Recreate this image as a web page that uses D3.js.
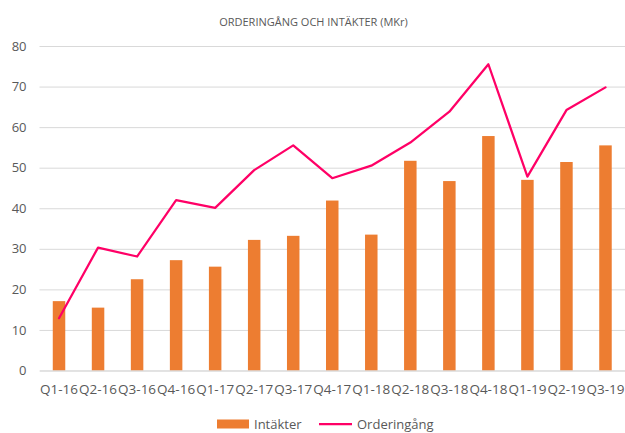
<!DOCTYPE html>
<html>
<head>
<meta charset="utf-8">
<script src="https://cdn.jsdelivr.net/npm/d3@7"></script>
<style>
  body { margin: 0; background: #fff; }
  text { font-family: "Open Sans", "Liberation Sans", sans-serif; fill: #595959; }
</style>
</head>
<body>
<svg width="625" height="433"></svg>
<script>
var quarters = ["Q1-16", "Q2-16", "Q3-16", "Q4-16", "Q1-17", "Q2-17", "Q3-17", "Q4-17",
                "Q1-18", "Q2-18", "Q3-18", "Q4-18", "Q1-19", "Q2-19", "Q3-19"];
var intakter = [17.1, 15.5, 22.5, 27.2, 25.6, 32.2, 33.2, 41.9, 33.5, 51.7, 46.7, 57.8, 47.0, 51.4, 55.5];
var orderingang = [12.9, 30.3, 28.1, 42.0, 40.1, 49.4, 55.5, 47.4, 50.5, 56.2, 63.8, 75.5, 47.8, 64.2, 69.8];
var yTicks = [0, 10, 20, 30, 40, 50, 60, 70, 80];

var svg = d3.select("svg"),
    margin = {top: 46, right: 0, bottom: 62.5, left: 39.5},
    width = +svg.attr("width") - margin.left - margin.right,
    height = +svg.attr("height") - margin.top - margin.bottom,
    g = svg.append("g").attr("transform", "translate(" + margin.left + "," + margin.top + ")");

var x = d3.scaleBand()
    .domain(quarters)
    .range([0, width])
    .paddingInner(0.68)
    .paddingOuter(0.34);

var y = d3.scaleLinear()
    .domain([0, 80])
    .range([height, 0]);

// title
svg.append("text")
    .attr("x", 313.5)
    .attr("y", 22)
    .attr("dy", "0.35em")
    .attr("text-anchor", "middle")
    .style("font-size", "11px")
    .text("ORDERINGÅNG OCH INTÄKTER (MKr)");

// grid + y labels
var yAxis = g.append("g")
    .call(d3.axisLeft(y).tickValues(yTicks).tickSize(-width).tickPadding(13));
yAxis.select(".domain").remove();
yAxis.selectAll(".tick line").attr("stroke", "#d9d9d9");
yAxis.selectAll(".tick text").style("font-size", "13px").attr("fill", "#595959");

// bars
g.selectAll(".bar")
    .data(intakter)
  .enter().append("rect")
    .attr("class", "bar")
    .attr("x", function(d, i) { return x(quarters[i]); })
    .attr("y", function(d) { return y(d); })
    .attr("width", x.bandwidth())
    .attr("height", function(d) { return height - y(d); })
    .attr("fill", "#ed7d31");

// x axis
var xAxis = g.append("g")
    .attr("transform", "translate(0," + height + ")")
    .call(d3.axisBottom(x).tickSize(0).tickPadding(14));
xAxis.select(".domain").attr("stroke", "#d9d9d9");
xAxis.selectAll(".tick text").style("font-size", "13.5px").attr("fill", "#595959");

// line
var line = d3.line()
    .x(function(d, i) { return x(quarters[i]) + x.bandwidth() / 2; })
    .y(function(d) { return y(d); });

g.append("path")
    .datum(orderingang)
    .attr("fill", "none")
    .attr("stroke", "#ff0066")
    .attr("stroke-width", 2.25)
    .attr("stroke-linejoin", "round")
    .attr("stroke-linecap", "round")
    .attr("d", line);

// legend
var legend = svg.append("g").attr("transform", "translate(0,424)");
legend.append("rect")
    .attr("x", 217).attr("y", -4.5)
    .attr("width", 32).attr("height", 9)
    .attr("fill", "#ed7d31");
legend.append("text")
    .attr("x", 254).attr("dy", "0.35em")
    .style("font-size", "13px")
    .text("Intäkter");
legend.append("line")
    .attr("x1", 319).attr("x2", 352)
    .attr("stroke", "#ff0066").attr("stroke-width", 2.25);
legend.append("text")
    .attr("x", 357).attr("dy", "0.35em")
    .style("font-size", "13px")
    .text("Orderingång");
</script>
</body>
</html>
